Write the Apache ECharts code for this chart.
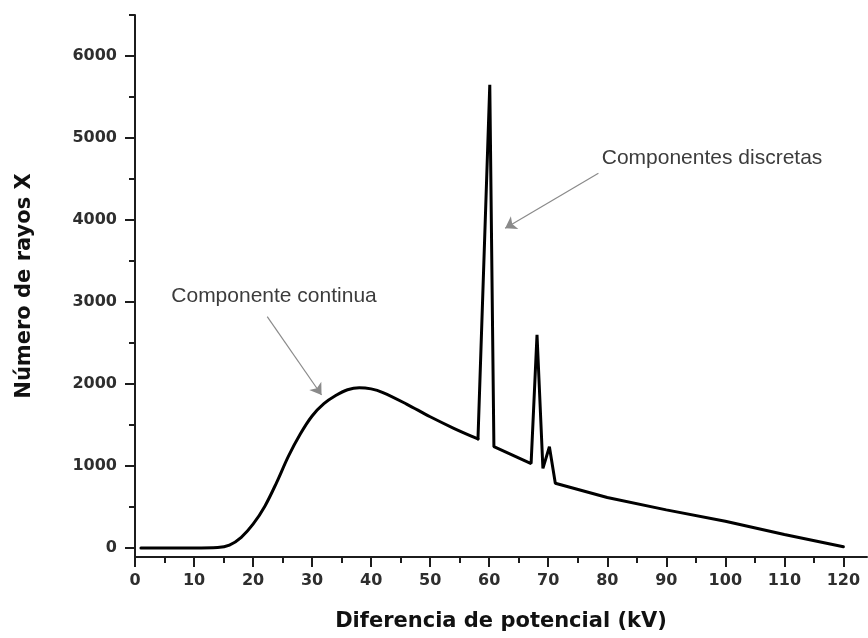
<!DOCTYPE html>
<html>
<head>
<meta charset="utf-8">
<script src="https://cdn.jsdelivr.net/npm/echarts@6/dist/echarts.min.js"></script>
<style>
  html, body { margin: 0; padding: 0; background: #fff; }
  #chart { width: 868px; height: 638px; }
</style>
</head>
<body>
<div id="chart"></div>
<script>
// X-ray emission spectrum: tube voltage (kV) vs. photon count
const kv = [1, 5, 10, 14, 16, 18, 20, 22, 24, 26, 28, 30, 32, 34, 36, 38, 40, 42, 46, 50, 54,
            58.1, 60.1, 60.8, 67.1, 68.1, 69.1, 70.2, 71.2, 80, 90, 100, 110, 120];
const counts = [0, 0, 0, 5, 35, 130, 290, 510, 800, 1120, 1390, 1610, 1760, 1860, 1930, 1955, 1940, 1895, 1755, 1600, 1460,
                1330, 5650, 1235, 1030, 2600, 970, 1235, 790, 615, 465, 325, 165, 15];

const xTicks = [0, 10, 20, 30, 40, 50, 60, 70, 80, 90, 100, 110, 120];
const yMajorTicks = [0, 1000, 2000, 3000, 4000, 5000, 6000];
const yMinorTicks = [500, 1500, 2500, 3500, 4500, 5500, 6500];

const xName = 'Diferencia de potencial (kV)';
const yName = 'Número de rayos X';
const noteContinuous = 'Componente continua';
const noteDiscrete = 'Componentes discretas';

// the bremsstrahlung hump is drawn smoothed; the characteristic lines stay sharp
const splitAt = kv.indexOf(58.1);
const points = kv.map((x, i) => [x, counts[i]]);
const continuousPart = points.slice(0, splitAt + 1);
const linePart = points.slice(splitAt);

const axisColor = '#1c1c1c';
const tickFont = { fontFamily: 'DejaVu Sans', fontWeight: 'bold', fontSize: 16, color: '#2e2e2e' };
const nameFont = { fontFamily: 'DejaVu Sans', fontWeight: 'bold', fontSize: 21, color: '#111' };
const noteFont = { fontFamily: 'Liberation Sans', fontSize: 21, color: '#3c3c3c' };
const plain = v => String(v);

const chart = echarts.init(document.getElementById('chart'), null, { renderer: 'canvas' });

chart.setOption({
  animation: false,
  backgroundColor: '#fff',
  grid: { left: 135, top: 15, right: 1, bottom: 81, containLabel: false },
  xAxis: {
    type: 'value',
    min: 0, max: 124, interval: 10,
    name: xName, nameLocation: 'middle', nameGap: 54, nameTextStyle: nameFont,
    axisLine: { show: true, onZero: false, lineStyle: { color: axisColor, width: 2 } },
    axisTick: { show: true, length: 10, lineStyle: { color: axisColor, width: 2 }, customValues: xTicks },
    minorTick: { show: true, splitNumber: 2, length: 6, lineStyle: { color: axisColor, width: 2 } },
    axisLabel: Object.assign({ margin: 16, customValues: xTicks, formatter: plain }, tickFont),
    splitLine: { show: false },
    minorSplitLine: { show: false }
  },
  yAxis: [
    {
      type: 'value',
      min: -110, max: 6500,
      name: yName, nameLocation: 'middle', nameGap: 100, nameTextStyle: nameFont,
      axisLine: { show: true, onZero: false, lineStyle: { color: axisColor, width: 2 } },
      axisTick: { show: true, length: 10, lineStyle: { color: axisColor, width: 2 }, customValues: yMajorTicks },
      axisLabel: Object.assign({ margin: 18, customValues: yMajorTicks, formatter: plain }, tickFont),
      splitLine: { show: false }
    },
    {
      type: 'value',
      min: -110, max: 6500,
      position: 'left',
      axisLine: { show: false },
      axisTick: { show: true, length: 6, lineStyle: { color: axisColor, width: 2 }, customValues: yMinorTicks },
      axisLabel: { show: false, customValues: yMinorTicks },
      splitLine: { show: false }
    }
  ],
  series: [
    {
      type: 'line',
      data: continuousPart,
      showSymbol: false,
      smooth: 0.35,
      lineStyle: { color: '#000', width: 3, cap: 'round', join: 'round' },
      markLine: {
        silent: true,
        animation: false,
        symbol: ['none', 'arrow'],
        symbolSize: 11,
        lineStyle: { color: '#8a8a8a', width: 1.2, type: 'solid' },
        itemStyle: { color: '#333' },
        label: { show: false },
        data: [
          [{ coord: [22.4, 2821] }, { coord: [31.6, 1866] }],
          [{ coord: [78.5, 4570] }, { coord: [62.7, 3899] }]
        ]
      },
      markPoint: {
        silent: true,
        symbol: 'circle',
        symbolSize: 0,
        label: Object.assign({ show: true, position: 'inside' }, noteFont),
        data: [
          { coord: [23.55, 3073], value: noteContinuous, label: { formatter: noteContinuous } },
          { coord: [97.75, 4756], value: noteDiscrete, label: { formatter: noteDiscrete } }
        ]
      }
    },
    {
      type: 'line',
      data: linePart,
      showSymbol: false,
      smooth: false,
      lineStyle: { color: '#000', width: 3, cap: 'round', join: 'bevel' }
    }
  ]
});
</script>
</body>
</html>
